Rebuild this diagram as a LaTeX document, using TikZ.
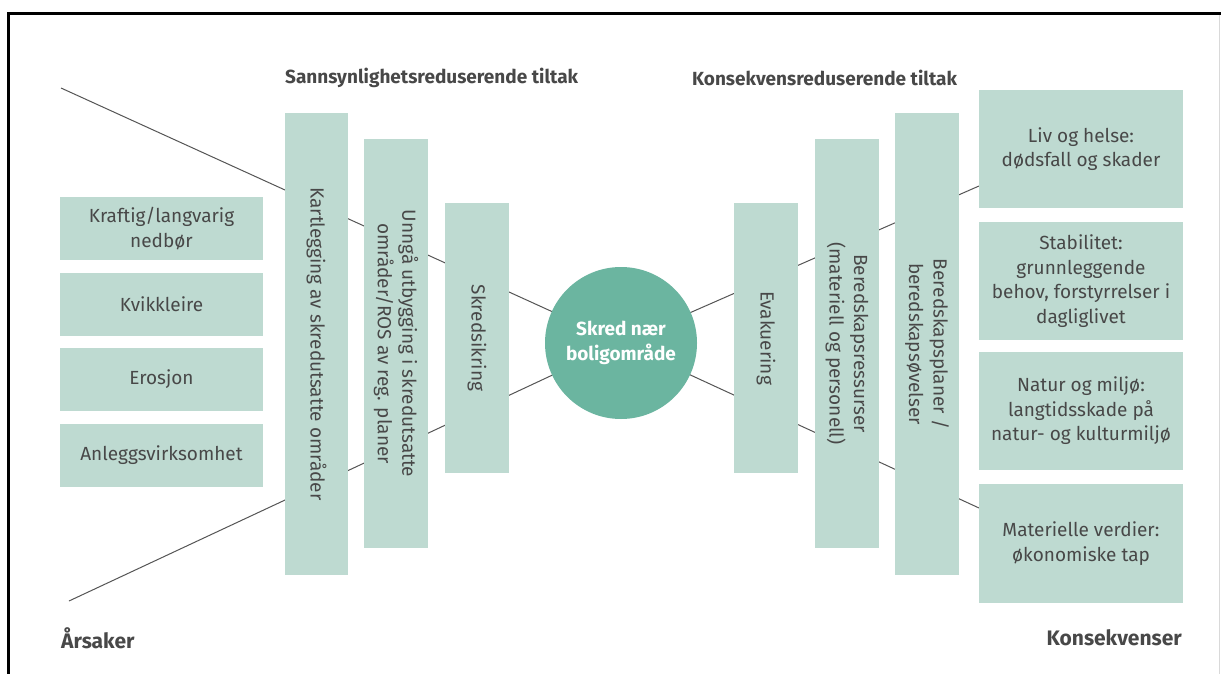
\documentclass[tikz,border=0pt]{standalone}
\usepackage{fontspec}
\setmainfont{Fira Sans}
\usetikzlibrary{backgrounds}
\definecolor{boxg}{HTML}{BEDAD1}
\definecolor{circg}{HTML}{6BB5A0}
\definecolor{txt}{HTML}{484848}
\definecolor{ln}{HTML}{555555}
\begin{document}
\begin{tikzpicture}[x=1pt,y=-1pt,
  box/.style={fill=boxg, draw=none, inner sep=0pt, align=center, text=txt, font=\fontsize{19}{24.5}\selectfont},
  vbar/.style={box, rotate=-90},
  title/.style={font=\bfseries\fontsize{19}{22}\selectfont, text=txt, inner sep=0pt},
  bigtitle/.style={title, font=\bfseries\fontsize{21}{24}\selectfont},
  conn/.style={draw=ln, line width=1pt}
]
\useasboundingbox (0,0) rectangle (1221,674);
% frame
\draw[line width=3.5pt] (8.5,674) -- (8.5,13.5) -- (1221,13.5);
\draw[black!15, line width=0.8pt] (1219.5,15.5) -- (1219.5,674);

% causes
\node[box, minimum width=203, minimum height=63] (c1) at (161.5,228.5) {Kraftig/langvarig\\nedbør};
\node[box, minimum width=203, minimum height=63] (c2) at (161.5,304.5) {Kvikkleire};
\node[box, minimum width=203, minimum height=63] (c3) at (161.5,379.5) {Erosjon};
\node[box, minimum width=203, minimum height=63] (c4) at (161.5,455.5) {Anleggsvirksomhet};

% probability-reducing bars
\node[vbar, minimum width=462, minimum height=63] (b1) at (316.5,344) {Kartlegging av skredutsatte områder};
\node[vbar, minimum width=409, minimum height=64] (b2) at (396,343.5) {Unngå utbygging i skredutsatte\\områder/ROS av reg. planer};
\node[vbar, minimum width=270, minimum height=64] (b3) at (477,338) {Skredsikring};

% centre
\node[circle, fill=circg, minimum size=152, inner sep=0pt, align=center, text=white,
  font=\bfseries\fontsize{19}{25}\selectfont] (circ) at (621,343) {Skred nær\\boligområde};

% consequence-reducing bars
\node[vbar, minimum width=270, minimum height=64] (d1) at (766,338) {Evakuering};
\node[vbar, minimum width=409, minimum height=64] (d2) at (847,343.5) {Beredskapsressurser\\(materiell og personell)};
\node[vbar, minimum width=462, minimum height=64] (d3) at (927,344) {Beredskapsplaner /\\beredskapsøvelser};

% consequences
\node[box, minimum width=204, minimum height=118] (k1) at (1081,149) {Liv og helse:\\dødsfall og skader};
\node[box, minimum width=204, minimum height=118] (k2) at (1081,281) {Stabilitet:\\grunnleggende\\behov, forstyrrelser i\\dagliglivet};
\node[box, minimum width=204, minimum height=118] (k3) at (1081,411) {Natur og miljø:\\langtidsskade på\\natur- og kulturmiljø};
\node[box, minimum width=204, minimum height=119] (k4) at (1081,543.5) {Materielle verdier:\\økonomiske tap};

% titles
\node[title, anchor=west] (t1) at (285,78) {Sannsynlighetsreduserende tiltak};
\node[title, anchor=west] (t2) at (692,78) {Konsekvensreduserende tiltak};
\node[bigtitle, anchor=west] (t3) at (61,638) {Årsaker};
\node[bigtitle, anchor=east] (t4) at (1182,638) {Konsekvenser};

% bow-tie lines
\coordinate (tl) at (61,88);
\coordinate (bl) at (69,601);
\coordinate (tr) at (979,186);
\coordinate (br) at (979,508);
\begin{scope}[on background layer]
\fill[white] (0,0) rectangle (1221,674);
\draw[conn] (tl) -- (circ.center);
\draw[conn] (bl) -- (circ.center);
\draw[conn] (circ.center) -- (tr);
\draw[conn] (circ.center) -- (br);
\end{scope}
\end{tikzpicture}
\end{document}
